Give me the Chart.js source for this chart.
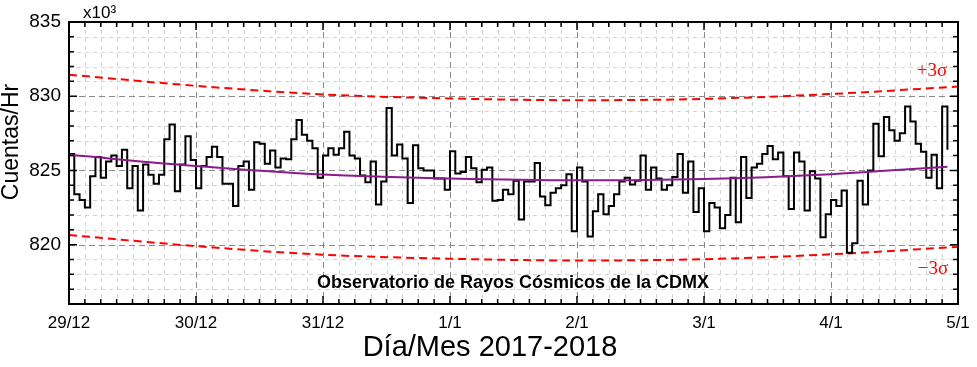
<!DOCTYPE html>
<html>
<head>
<meta charset="utf-8">
<script src="https://cdn.jsdelivr.net/npm/chart.js@4/dist/chart.umd.min.js"></script>
<style>
    html,body{ margin:0; padding:0; background:#fff; }
    canvas{ display:block; }
</style>
</head>
<body>
<canvas id="rayosChart" width="977" height="367"></canvas>
<script>

/* =====================================================
   DATA (cuentas por hora, x10^3)
===================================================== */

const dayLabels = ["29/12","30/12","31/12","1/1","2/1","3/1","4/1","5/1"];

const hourlyCounts = [
    826.1, 823.4, 823.0, 822.5, 824.6, 825.9, 824.5, 825.6, 826.0, 825.3, 826.4, 823.8,
    825.3, 822.3, 825.4, 824.7, 824.1, 824.7, 827.1, 828.1, 823.6, 825.4, 827.3, 825.7,
    823.8, 825.3, 825.9, 826.6, 825.9, 824.1, 824.1, 822.6, 825.3, 825.6, 823.7, 826.9,
    826.8, 825.45, 826.35, 825.2, 825.8, 825.75, 827.1, 828.4, 827.4, 827.0, 826.5, 824.5,
    826.0, 826.5, 826.05, 826.5, 827.6, 826.0, 825.8, 824.65, 824.2, 825.6, 822.7, 824.25,
    829.2, 826.0, 826.75, 825.8, 822.8, 826.7, 825.15, 825.0, 825.0, 824.45, 824.45, 823.7,
    826.3, 824.8, 824.9, 825.9, 825.15, 824.2, 825.05, 825.2, 822.95, 823.0, 823.7, 823.4,
    824.3, 821.7, 824.25, 824.25, 825.5, 823.25, 822.65, 823.5, 823.8, 824.0, 824.75, 820.9,
    825.2, 824.25, 820.55, 822.25, 823.4, 822.05, 822.6, 823.4, 824.25, 824.5, 824.05, 824.3,
    826.0, 823.7, 825.2, 824.45, 823.7, 824.0, 824.55, 826.1, 823.5, 825.6, 822.2, 823.8,
    820.9, 822.8, 822.5, 821.1, 822.0, 824.5, 821.5, 825.9, 823.15, 825.2, 825.45, 826.1,
    826.65, 825.75, 826.2, 824.6, 822.4, 826.2, 825.6, 822.3, 824.95, 824.45, 820.5, 822.05,
    823.0, 822.6, 823.65, 819.45, 820.1, 824.3, 822.7, 825.0, 828.15, 825.95, 828.6, 827.7,
    827.0, 827.5, 829.3, 828.3, 826.8, 826.25, 824.5, 826.05, 823.8, 829.3, 826.4
];

const fitHours  = [0, 24, 48, 72, 96, 120, 144, 166];
const fitValues = [826.05, 825.3, 824.72, 824.45, 824.33, 824.42, 824.75, 825.25];

const sigmaHours  = [0, 24, 48, 72, 96, 120, 144, 168];
const upperSigma  = [831.45, 830.7, 830.12, 829.85, 829.73, 829.82, 830.15, 830.65];
const lowerSigma  = [820.65, 819.9, 819.32, 819.05, 818.93, 819.02, 819.35, 819.85];


/* =========================
   HELPERS
========================= */

const FONT = "'Liberation Sans', Arial, sans-serif";

function toPoints(xs, ys){
    return ys.map((y, i) => ({ x: xs[i], y }));
}


/* =========================
   GRID + FRAME PLUGIN
========================= */

const framePlugin = {

    id:"frame",

    beforeDatasetsDraw(chart){

        const { ctx, chartArea:a, scales } = chart;
        const xs = scales.x, ys = scales.y;

        ctx.save();
        ctx.lineWidth = 1;

        // minor first, then major on top
        [false, true].forEach(major => {

            ctx.strokeStyle = major ? "#8a8a8a" : "#d2d2d2";
            ctx.setLineDash(major ? [6,4] : [4,4]);

            xs.ticks.forEach(t => {
                if((t.value % 24 === 0) !== major) return;
                if(t.value === xs.min || t.value === xs.max) return;
                const px = Math.round(xs.getPixelForValue(t.value)) + 0.5;
                ctx.beginPath();
                ctx.moveTo(px, a.top);
                ctx.lineTo(px, a.bottom);
                ctx.stroke();
            });

            ys.ticks.forEach(t => {
                if((t.value % 5 === 0) !== major) return;
                if(t.value === ys.min || t.value === ys.max) return;
                const py = Math.round(ys.getPixelForValue(t.value)) + 0.5;
                ctx.beginPath();
                ctx.moveTo(a.left, py);
                ctx.lineTo(a.right, py);
                ctx.stroke();
            });

        });

        ctx.restore();

    },

    afterDatasetsDraw(chart){

        const { ctx, chartArea:a, scales } = chart;
        const xs = scales.x, ys = scales.y;

        ctx.save();
        ctx.strokeStyle = "#000";
        ctx.lineWidth = 1.5;
        ctx.setLineDash([]);

        // inner ticks
        ctx.beginPath();
        xs.ticks.forEach(t => {
            const len = t.value % 24 === 0 ? 8 : 5;
            const px = xs.getPixelForValue(t.value);
            ctx.moveTo(px, a.bottom); ctx.lineTo(px, a.bottom - len);
            ctx.moveTo(px, a.top);    ctx.lineTo(px, a.top + len);
        });
        ys.ticks.forEach(t => {
            const len = t.value % 5 === 0 ? 8 : 5;
            const py = ys.getPixelForValue(t.value);
            ctx.moveTo(a.left, py);  ctx.lineTo(a.left + len, py);
            ctx.moveTo(a.right, py); ctx.lineTo(a.right - len, py);
        });
        ctx.stroke();

        // box
        ctx.lineWidth = 2;
        ctx.strokeRect(a.left, a.top, a.right - a.left, a.bottom - a.top);

        ctx.restore();

    }

};


/* =========================
   TEXT PLUGIN
========================= */

const textPlugin = {

    id:"texts",

    afterDraw(chart){

        const { ctx } = chart;

        ctx.save();
        ctx.fillStyle = "#000";
        ctx.textBaseline = "middle";

        // multiplier
        ctx.textAlign = "left";
        ctx.font = "17px " + FONT;
        ctx.fillText("x10³", 83, 13);

        // y title
        ctx.save();
        ctx.translate(12, 142);
        ctx.rotate(-Math.PI / 2);
        ctx.textAlign = "center";
        ctx.font = "23px " + FONT;
        ctx.fillText("Cuentas/Hr", 0, 0);
        ctx.restore();

        // x title
        ctx.textAlign = "center";
        ctx.font = "29px " + FONT;
        ctx.fillText("Día/Mes 2017-2018", 490, 348);

        // station name
        ctx.font = "bold 18px " + FONT;
        ctx.fillText("Observatorio de Rayos Cósmicos de la CDMX", 513, 283);

        // sigma labels
        ctx.fillStyle = "#ff0000";
        ctx.font = "19px 'Liberation Serif', 'Times New Roman', serif";
        ctx.fillText("+3σ", 932, 71);
        ctx.fillText("−3σ", 933, 269);

        ctx.restore();

    }

};


/* =========================
   CHART
========================= */

const canvas = document.getElementById("rayosChart");

new Chart(canvas,{

    type:"line",

    data:{

        datasets:[

            {
                label:"ajuste",
                data:toPoints(fitHours, fitValues),
                borderColor:"#8b1a8b",
                borderWidth:2,
                pointRadius:0,
                cubicInterpolationMode:"monotone"
            },

            {
                label:"cuentas",
                data:toPoints(hourlyCounts.map((v, i) => i), hourlyCounts),
                borderColor:"#000",
                borderWidth:2,
                pointRadius:0,
                stepped:true
            },

            {
                label:"+3σ",
                data:toPoints(sigmaHours, upperSigma),
                borderColor:"#ff0000",
                borderWidth:2,
                borderDash:[8,5],
                pointRadius:0,
                cubicInterpolationMode:"monotone"
            },

            {
                label:"-3σ",
                data:toPoints(sigmaHours, lowerSigma),
                borderColor:"#ff0000",
                borderWidth:2,
                borderDash:[8,5],
                pointRadius:0,
                cubicInterpolationMode:"monotone"
            }

        ]

    },

    options:{

        responsive:false,

        animation:false,

        layout:{
            padding:{ left:0, top:22, right:19, bottom:0 }
        },

        plugins:{
            legend:{ display:false },
            tooltip:{ enabled:false }
        },

        scales:{

            x:{

                type:"linear",
                min:0,
                max:168,

                grid:{ display:false },
                border:{ display:false },

                afterFit:scale => { scale.height = 63; },

                ticks:{
                    stepSize:3,
                    autoSkip:false,
                    maxRotation:0,
                    padding:1,
                    color:"#000",
                    font:{ family:FONT, size:17 },
                    callback:value =>
                        value % 24 === 0 ? dayLabels[value / 24] : ""
                }

            },

            y:{

                min:816,
                max:835,

                grid:{ display:false, drawTicks:false },
                border:{ display:false },

                afterFit:scale => { scale.width = 69; },

                ticks:{
                    stepSize:1,
                    autoSkip:false,
                    padding:8,
                    color:"#000",
                    font:{ family:FONT, size:19 },
                    callback:value =>
                        value % 5 === 0 ? value : ""
                }

            }

        }

    },

    plugins:[framePlugin, textPlugin]

});

</script>
</body>
</html>
